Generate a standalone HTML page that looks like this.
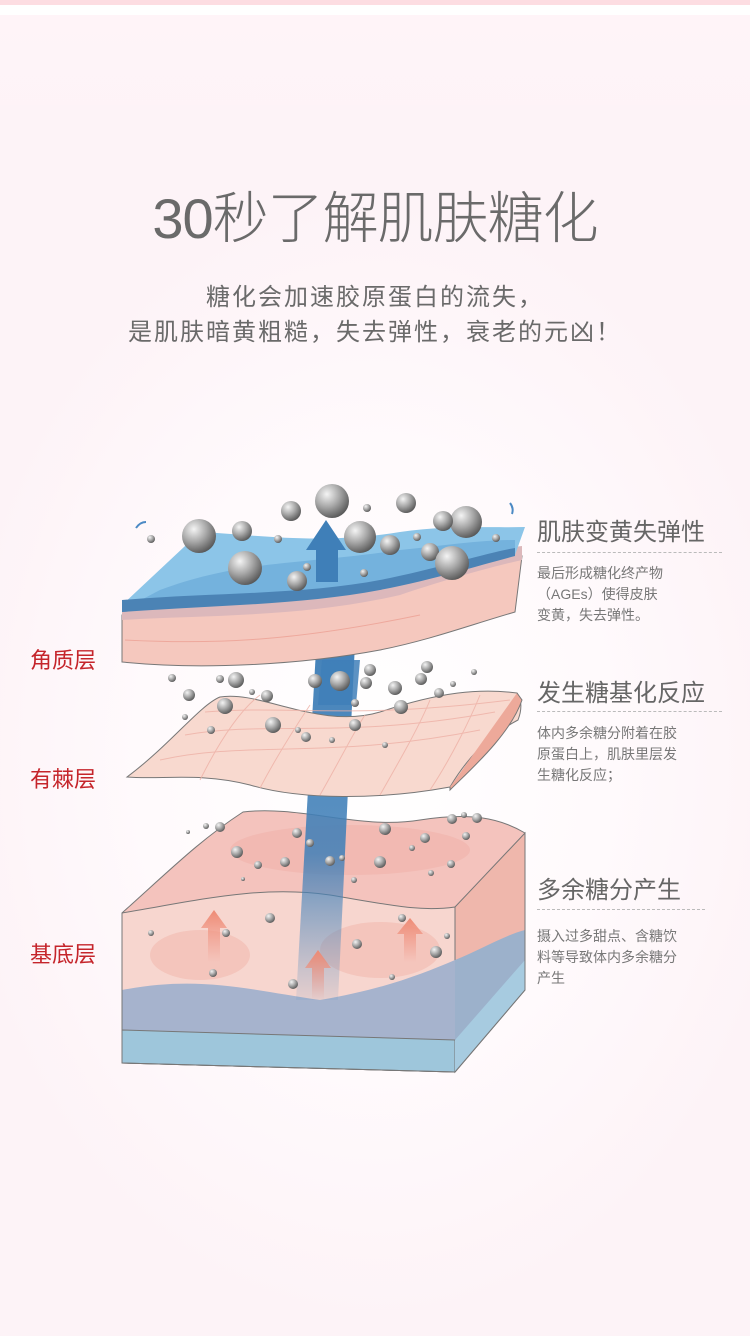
<!DOCTYPE html>
<html><head><meta charset="utf-8"><style>
html,body{margin:0;padding:0}
body{width:750px;height:1336px;position:relative;overflow:hidden;font-family:"Liberation Sans","Noto Sans CJK SC",sans-serif;
background:radial-gradient(ellipse 420px 560px at 375px 760px,#ffffff 0%,#fffafc 55%,#fdf3f7 100%)}
.t{position:absolute;white-space:nowrap}
</style></head><body>
<div style="position:absolute;left:0;top:0;width:750px;height:5px;background:#fddde2"></div>
<div style="position:absolute;left:0;top:5px;width:750px;height:10px;background:#fff"></div>
<div style="position:absolute;left:0;top:15px;width:750px;height:120px;background:linear-gradient(#fff4f8,rgba(255,244,248,0))"></div>

<div class="t" style="left:0;width:750px;text-align:center;top:174px;font-size:56px;color:#6a6a6a;font-weight:300;letter-spacing:-1px">30秒了解肌肤糖化</div>
<div class="t" style="left:0;width:750px;text-align:center;top:280px;font-size:24px;color:#6a6a6a;line-height:35px;letter-spacing:2px">糖化会加速胶原蛋白的流失，<br>是肌肤暗黄粗糙，失去弹性，衰老的元凶！</div>

<div class="t" style="left:30px;top:643px;font-size:22px;color:#c5252b">角质层</div>
<div class="t" style="left:30px;top:762px;font-size:22px;color:#c5252b">有棘层</div>
<div class="t" style="left:30px;top:937px;font-size:22px;color:#c5252b">基底层</div>

<div class="t" style="left:537px;top:512px;font-size:24px;color:#666">肌肤变黄失弹性</div>
<div style="position:absolute;left:537px;top:552px;width:185px;border-top:1px dashed #bbb"></div>
<div class="t" style="left:537px;top:563px;font-size:14px;color:#777;line-height:21px">最后形成糖化终产物<br>（AGEs）使得皮肤<br>变黄，失去弹性。</div>

<div class="t" style="left:537px;top:673px;font-size:24px;color:#666">发生糖基化反应</div>
<div style="position:absolute;left:537px;top:711px;width:185px;border-top:1px dashed #bbb"></div>
<div class="t" style="left:537px;top:723px;font-size:14px;color:#777;line-height:21px">体内多余糖分附着在胶<br>原蛋白上，肌肤里层发<br>生糖化反应；</div>

<div class="t" style="left:537px;top:870px;font-size:24px;color:#666">多余糖分产生</div>
<div style="position:absolute;left:537px;top:909px;width:168px;border-top:1px dashed #bbb"></div>
<div class="t" style="left:537px;top:926px;font-size:14px;color:#777;line-height:21px">摄入过多甜点、含糖饮<br>料等导致体内多余糖分<br>产生</div>

<svg style="position:absolute;left:0;top:0" width="750" height="1336" viewBox="0 0 750 1336">
<defs>
<radialGradient id="b" cx="0.35" cy="0.3" r="0.75"><stop offset="0" stop-color="#f4f4f4"/><stop offset="0.5" stop-color="#a8a8a8"/><stop offset="1" stop-color="#555"/></radialGradient>
<linearGradient id="beam" x1="0" y1="1" x2="0" y2="0"><stop offset="0" stop-color="#4d8bc0" stop-opacity="0.1"/><stop offset="0.35" stop-color="#3f7fb8" stop-opacity="0.85"/><stop offset="1" stop-color="#3d7db6"/></linearGradient>
<linearGradient id="ar" x1="0" y1="1" x2="0" y2="0"><stop offset="0" stop-color="#f08a78" stop-opacity="0"/><stop offset="1" stop-color="#ee8a74"/></linearGradient>
</defs>
<!-- bottom block -->
<path d="M122 913 C170 870 200 840 243 812 C300 805 360 830 420 820 C470 812 500 818 525 833 L525 990 L455 1072 L122 1063 Z" fill="#f4c3bd" stroke="#777" stroke-width="1"/>
<path d="M122 913 C200 900 260 885 330 895 C390 905 420 912 455 907 L455 1072 L122 1063 Z" fill="#f7d6cf" stroke="#777" stroke-width="1"/>
<path d="M455 907 L525 833 L525 990 L455 1072 Z" fill="#efb7ac" stroke="#777" stroke-width="1"/>
<path d="M122 990 C200 975 250 990 320 1000 C380 990 420 975 455 960 L455 1072 L122 1063 Z" fill="#a6b3cd"/>
<path d="M455 960 C480 950 505 935 525 930 L525 990 L455 1072 Z" fill="#9cb1cb"/>
<path d="M122 1030 L455 1040 L455 1072 L122 1063 Z" fill="#9ec6db" stroke="#777" stroke-width="1"/>
<path d="M455 1040 L525 960 L525 990 L455 1072 Z" fill="#a7cbe0"/>
<path d="M122 913 L122 1063 L455 1072 L525 990 L525 833" fill="none" stroke="#777"/>
<ellipse cx="200" cy="955" rx="50" ry="25" fill="#f2bdb3" opacity="0.7"/>
<ellipse cx="380" cy="950" rx="60" ry="28" fill="#f2bdb3" opacity="0.7"/>
<ellipse cx="350" cy="850" rx="120" ry="25" fill="#efb0a8" opacity="0.5"/>
<!-- beam -->
<path d="M296 1000 L338 1000 L358 580 L320 580 Z" fill="url(#beam)"/>
<!-- arrows in block -->
<path d="M208 962 L208 928 L201 928 L214 910 L227 928 L220 928 L220 962 Z" fill="url(#ar)"/>
<path d="M404 962 L404 934 L397 934 L410 918 L423 934 L416 934 L416 962 Z" fill="url(#ar)"/>
<path d="M312 1000 L312 968 L305 968 L318 950 L331 968 L324 968 L324 1000 Z" fill="url(#ar)"/>
<!-- middle sheet -->
<path d="M127 777 C170 745 200 705 220 697 C260 690 320 730 380 712 C440 692 480 688 517 693 C522 700 522 710 518 720 C480 740 460 770 450 787 C380 800 300 800 250 785 C200 772 160 780 127 777 Z" fill="#f8d9cf" stroke="#777" stroke-width="1"/>
<path d="M517 693 L522 700 C510 735 470 770 450 790 L450 787" fill="#eda99a" stroke="#777"/>
<g stroke="#eeb1a6" stroke-width="1" fill="none" opacity="0.8">
<path d="M160 760 C250 740 330 760 480 730"/><path d="M185 735 C270 720 340 740 495 712"/><path d="M205 712 C290 705 350 720 510 700"/>
<path d="M200 780 C220 740 240 710 260 695"/><path d="M260 788 C280 750 300 720 310 705"/><path d="M320 795 C340 760 355 730 365 715"/><path d="M380 795 C400 760 420 725 430 700"/><path d="M430 790 C450 760 470 720 480 695"/>
</g>
<path d="M318 705 L356 705 L360 660 L322 660 Z" fill="#3f7fb8" opacity="0.85"/>
<!-- top slab -->
<path d="M122 615 C200 600 300 610 400 585 C460 570 500 560 522 556 L515 612 C470 625 430 640 380 650 C300 665 200 670 122 662 Z" fill="#f5c8be" stroke="#777" stroke-width="1"/>
<path d="M125 640 C220 645 300 640 420 615" stroke="#eea89c" fill="none"/>
<path d="M122 605 C200 595 300 600 400 575 C460 562 500 548 522 546 L522 560 C500 565 460 575 400 595 C300 618 200 615 122 620 Z" fill="#dcb8bb"/>
<path d="M122 605 L200 532 C260 535 320 545 400 532 C450 525 490 528 525 527 L515 555 C470 565 430 578 380 588 C300 600 220 600 122 610 Z" fill="#8cc5e8"/>
<path d="M160 590 C240 560 300 565 400 550 C450 545 480 540 515 540 L515 555 C470 565 430 578 380 588 C300 600 220 600 122 610 Z" fill="#6aaad8" opacity="0.7"/>
<path d="M122 600 C220 592 310 595 390 578 C450 565 490 552 515 548 L515 556 C480 565 440 578 380 590 C300 605 220 605 122 612 Z" fill="#4b83b5"/>
<path d="M306 550 L326 520 L346 550 L338 550 L338 582 L316 582 L316 550 Z" fill="#3f7fb8"/>
<!-- balls -->
<g fill="url(#b)">
<circle cx="332" cy="501" r="17"/><circle cx="291" cy="511" r="10"/><circle cx="406" cy="503" r="10"/><circle cx="466" cy="522" r="16"/><circle cx="443" cy="521" r="10"/>
<circle cx="199" cy="536" r="17"/><circle cx="242" cy="531" r="10"/><circle cx="360" cy="537" r="16"/><circle cx="390" cy="545" r="10"/><circle cx="430" cy="552" r="9"/><circle cx="452" cy="563" r="17"/>
<circle cx="245" cy="568" r="17"/><circle cx="297" cy="581" r="10"/>
<circle cx="151" cy="539" r="4"/><circle cx="278" cy="539" r="4"/><circle cx="367" cy="508" r="4"/><circle cx="417" cy="537" r="4"/><circle cx="496" cy="538" r="4"/><circle cx="307" cy="567" r="4"/><circle cx="364" cy="573" r="4"/>
<circle cx="236" cy="680" r="8"/><circle cx="267" cy="696" r="6"/><circle cx="189" cy="695" r="6"/><circle cx="172" cy="678" r="4"/><circle cx="220" cy="679" r="4"/><circle cx="252" cy="692" r="3"/>
<circle cx="340" cy="681" r="10"/><circle cx="315" cy="681" r="7"/><circle cx="370" cy="670" r="6"/><circle cx="366" cy="683" r="6"/><circle cx="395" cy="688" r="7"/><circle cx="421" cy="679" r="6"/><circle cx="427" cy="667" r="6"/><circle cx="439" cy="693" r="5"/><circle cx="453" cy="684" r="3"/><circle cx="474" cy="672" r="3"/>
<circle cx="225" cy="706" r="8"/><circle cx="273" cy="725" r="8"/><circle cx="306" cy="737" r="5"/><circle cx="355" cy="725" r="6"/><circle cx="401" cy="707" r="7"/><circle cx="355" cy="703" r="4"/><circle cx="211" cy="730" r="4"/><circle cx="385" cy="745" r="3"/><circle cx="332" cy="740" r="3"/><circle cx="298" cy="730" r="3"/><circle cx="185" cy="717" r="3"/>
<circle cx="220" cy="827" r="5"/><circle cx="206" cy="826" r="3"/><circle cx="237" cy="852" r="6"/><circle cx="297" cy="833" r="5"/><circle cx="385" cy="829" r="6"/><circle cx="380" cy="862" r="6"/><circle cx="464" cy="815" r="3"/><circle cx="452" cy="819" r="5"/><circle cx="477" cy="818" r="5"/><circle cx="425" cy="838" r="5"/><circle cx="466" cy="836" r="4"/><circle cx="451" cy="864" r="4"/><circle cx="431" cy="873" r="3"/><circle cx="285" cy="862" r="5"/><circle cx="258" cy="865" r="4"/><circle cx="270" cy="918" r="5"/><circle cx="226" cy="933" r="4"/><circle cx="151" cy="933" r="3"/><circle cx="357" cy="944" r="5"/><circle cx="402" cy="918" r="4"/><circle cx="436" cy="952" r="6"/><circle cx="213" cy="973" r="4"/><circle cx="293" cy="984" r="5"/><circle cx="330" cy="861" r="5"/><circle cx="310" cy="843" r="4"/><circle cx="342" cy="858" r="3"/><circle cx="354" cy="880" r="3"/><circle cx="412" cy="848" r="3"/><circle cx="243" cy="879" r="2"/><circle cx="188" cy="832" r="2"/><circle cx="447" cy="936" r="3"/><circle cx="392" cy="977" r="3"/>
</g>
<path d="M136 528 Q140 522 146 522" stroke="#4b8ac4" stroke-width="2" fill="none"/>
<path d="M510 503 Q514 508 512 514" stroke="#4b8ac4" stroke-width="2" fill="none"/>
</svg>
</body></html>
